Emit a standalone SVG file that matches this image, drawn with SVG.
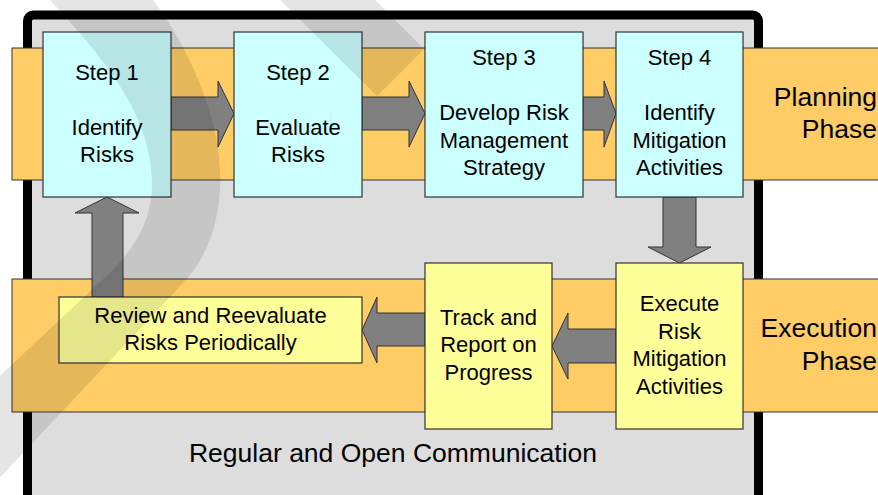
<svg xmlns="http://www.w3.org/2000/svg" width="878" height="495" viewBox="0 0 878 495">
  <style>
    text { font-family: "Liberation Sans", Arial, sans-serif; fill: #000; text-anchor: middle; }
    .t { font-size: 22px; }
    .phase { font-size: 26.5px; text-anchor: end; }
    .comm { font-size: 26.5px; }
    .band { fill: #ffcc66; stroke: #333; stroke-width: 1; }
    .plan { fill: #ccffff; stroke: #333; stroke-width: 1.2; }
    .exec { fill: #ffff99; stroke: #333; stroke-width: 1.2; }
    .arrow { fill: #808080; stroke: #333; stroke-width: 1; stroke-linejoin: miter; }
    .mark { fill: #000; opacity: 0.1; }
  </style>

  <rect width="878" height="495" fill="#fff"/>

  <!-- communication frame -->
  <g id="frame">
    <rect x="27.5" y="15" width="731" height="490" rx="6" fill="#dddddd" stroke="#000" stroke-width="9"/>
    <text class="comm" x="393" y="462">Regular and Open Communication</text>
  </g>

  <!-- phase bands -->
  <g id="planning-phase">
    <rect class="band" x="12" y="48" width="880" height="132"/>
    <text class="phase" x="877" y="106">Planning</text>
    <text class="phase" x="877" y="138">Phase</text>
  </g>
  <g id="execution-phase">
    <rect class="band" x="12" y="279" width="880" height="133"/>
    <text class="phase" x="877" y="337">Execution</text>
    <text class="phase" x="877" y="370">Phase</text>
  </g>

  <!-- connectors -->
  <g id="connectors">
    <polygon class="arrow" points="171,97 218,97 218,81 234,113.5 218,147 218,130 171,130"/>
    <polygon class="arrow" points="362,97 409,97 409,81 425,113.5 409,147 409,130 362,130"/>
    <polygon class="arrow" points="583,97 604,97 604,81 616,113.5 604,147 604,130 583,130"/>
    <polygon class="arrow" points="663,197 696,197 696,247 711,247 679.5,263 648,247 663,247"/>
    <polygon class="arrow" points="616,329 568,329 568,313 552,346 568,379 568,363 616,363"/>
    <polygon class="arrow" points="425,313 377,313 377,297 362,330 377,363 377,346 425,346"/>
    <polygon class="arrow" points="92,297 92,213 75,213 107,197 139,213 123,213 123,297"/>
  </g>

  <!-- planning steps -->
  <g id="step1">
    <rect class="plan" x="43" y="32" width="128" height="165"/>
    <text class="t" x="107" y="80">Step 1</text>
    <text class="t" x="107" y="135">Identify</text>
    <text class="t" x="107" y="162">Risks</text>
  </g>
  <g id="step2">
    <rect class="plan" x="234" y="32" width="128" height="165"/>
    <text class="t" x="298" y="80">Step 2</text>
    <text class="t" x="298" y="135">Evaluate</text>
    <text class="t" x="298" y="162">Risks</text>
  </g>
  <g id="step3">
    <rect class="plan" x="425" y="32" width="158" height="165"/>
    <text class="t" x="504" y="65">Step 3</text>
    <text class="t" x="504" y="120">Develop Risk</text>
    <text class="t" x="504" y="148">Management</text>
    <text class="t" x="504" y="175">Strategy</text>
  </g>
  <g id="step4">
    <rect class="plan" x="616" y="32" width="127" height="165"/>
    <text class="t" x="679.5" y="65">Step 4</text>
    <text class="t" x="679.5" y="120">Identify</text>
    <text class="t" x="679.5" y="148">Mitigation</text>
    <text class="t" x="679.5" y="175">Activities</text>
  </g>

  <!-- execution steps -->
  <g id="execute">
    <rect class="exec" x="616" y="263" width="127" height="166"/>
    <text class="t" x="679.5" y="311">Execute</text>
    <text class="t" x="679.5" y="338.5">Risk</text>
    <text class="t" x="679.5" y="366">Mitigation</text>
    <text class="t" x="679.5" y="393.5">Activities</text>
  </g>
  <g id="track">
    <rect class="exec" x="425" y="263" width="127" height="166"/>
    <text class="t" x="488.5" y="324.5">Track and</text>
    <text class="t" x="488.5" y="352">Report on</text>
    <text class="t" x="488.5" y="379.5">Progress</text>
  </g>
  <g id="review">
    <rect class="exec" x="59" y="297" width="303" height="66"/>
    <text class="t" x="210.5" y="322.5">Review and Reevaluate</text>
    <text class="t" x="210.5" y="349.5">Risks Periodically</text>
  </g>

  <!-- translucent background emblem laid over the drawing -->
  <g id="emblem">
    <path class="mark" d="M 50,0 C 100,55 150,110 152,180 C 153,225 130,255 100,282 L -10,385 L -10,488 L 183,283 C 210,255 222,215 220,170 C 218,110 185,42 153,0 Z"/>
    <polygon class="mark" points="270,-10 365,-10 424,49 377,96"/>
  </g>
</svg>
